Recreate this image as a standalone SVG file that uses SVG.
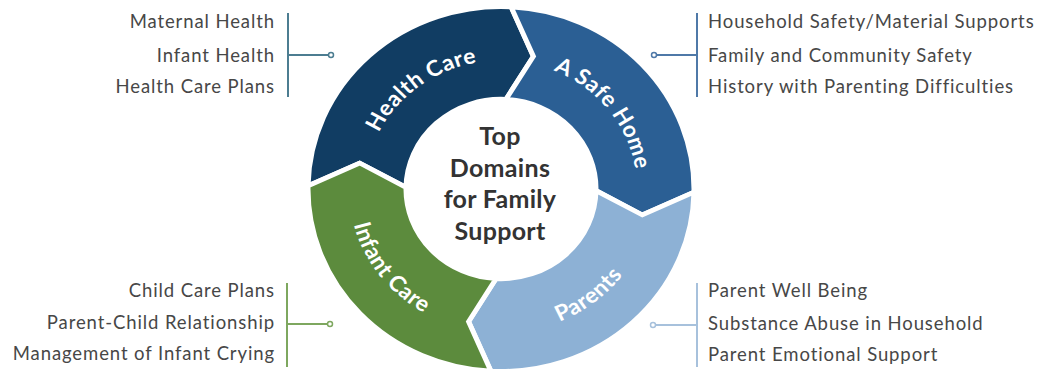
<svg xmlns="http://www.w3.org/2000/svg" width="1039" height="370" viewBox="0 0 1039 370">
<style>
.seg{stroke:#fff;stroke-width:5;stroke-linejoin:miter}
.lbl{font-family:Lato,"Open Sans",sans-serif;font-weight:700;font-size:23px;fill:#fff;letter-spacing:0.6px}
.ctr{font-family:Lato,"Open Sans",sans-serif;font-weight:700;font-size:25px;fill:#333;text-anchor:middle;letter-spacing:0.3px}
.side{font-family:Lato,"Open Sans",sans-serif;font-size:18.5px;fill:#474747;letter-spacing:0.9px}
.r{text-anchor:end}
.dot{fill:#fff;stroke-width:1.5}
.ln{fill:none;stroke-width:2}
</style>
<rect width="1039" height="370" fill="#fff"/>
<g transform="translate(501,189) scale(1,0.945)">
<g id="health-care">
<path class="seg" fill="#113d63" d="M-192.97,-3.37 A193,193 0 0,1 10.10,-192.74 L32.39,-140.31 L4.97,-94.87 A95,95 0 0,0 -94.99,-1.66 L-141.35,-27.48 Z"/>
<path id="aHC" fill="none" d="M-134.99,16.57 A136,136 0 0,1 53.14,-125.19"/>
<text class="lbl"><textPath href="#aHC" startOffset="50%" text-anchor="middle">Health Care</textPath></text>
</g>
<g id="safe-home">
<path class="seg" fill="#2b5f94" d="M10.10,-192.74 A193,193 0 0,1 192.97,3.37 L141.35,27.48 L94.99,1.66 A95,95 0 0,0 4.97,-94.87 L32.39,-140.31 Z"/>
<path id="aSH" fill="none" d="M-18.93,-134.68 A136,136 0 0,1 126.10,50.95"/>
<text class="lbl"><textPath href="#aSH" startOffset="50%" text-anchor="middle">A Safe Home</textPath></text>
</g>
<g id="parents">
<path class="seg" fill="#8db1d5" d="M192.97,3.37 A193,193 0 0,1 -10.10,192.74 L-32.39,140.31 L-4.97,94.87 A95,95 0 0,0 94.99,1.66 L141.35,27.48 Z"/>
<path id="aPA" fill="none" d="M-56.94,140.93 A152,152 0 0,0 150.52,-21.15"/>
<text class="lbl"><textPath href="#aPA" startOffset="50%" text-anchor="middle">Parents</textPath></text>
</g>
<g id="infant-care">
<path class="seg" fill="#5c8b3d" d="M-10.10,192.74 A193,193 0 0,1 -192.97,-3.37 L-141.35,-27.48 L-94.99,-1.66 A95,95 0 0,0 -4.97,94.87 L-32.39,140.31 Z"/>
<path id="aIC" fill="none" d="M-139.92,-59.39 A152,152 0 0,0 18.52,150.87"/>
<text class="lbl"><textPath href="#aIC" startOffset="50%" text-anchor="middle">Infant Care</textPath></text>
</g>
</g>
<g id="center">
<text class="ctr" x="500" y="145">Top</text>
<text class="ctr" x="500" y="177">Domains</text>
<text class="ctr" x="500" y="208">for Family</text>
<text class="ctr" x="500" y="240">Support</text>
</g>
<g id="connectors">
<path class="ln" stroke="#4c7d91" d="M288,13 V97 M288,55 H328.5"/>
<circle class="dot" stroke="#4c7d91" cx="331" cy="55" r="2.5"/>
<path class="ln" stroke="#4f79a8" d="M697,13 V97 M697,55 H656.5"/>
<circle class="dot" stroke="#4f79a8" cx="654" cy="55" r="2.5"/>
<path class="ln" stroke="#7ea75f" d="M287,283 V367 M287,324 H327.5"/>
<circle class="dot" stroke="#7ea75f" cx="330" cy="324" r="2.5"/>
<path class="ln" stroke="#a7c1dc" d="M697,283 V367 M697,325 H655.5"/>
<circle class="dot" stroke="#a7c1dc" cx="653" cy="325" r="2.5"/>
</g>
<g id="health-care-items">
<text class="side r" x="275" y="28">Maternal Health</text>
<text class="side r" x="275" y="62">Infant Health</text>
<text class="side r" x="275" y="93">Health Care Plans</text>
</g>
<g id="safe-home-items">
<text class="side" x="708" y="28">Household Safety/Material Supports</text>
<text class="side" x="708" y="62">Family and Community Safety</text>
<text class="side" x="708" y="93">History with Parenting Difficulties</text>
</g>
<g id="infant-care-items">
<text class="side r" x="275" y="297">Child Care Plans</text>
<text class="side r" x="275" y="329">Parent-Child Relationship</text>
<text class="side r" x="275" y="360">Management of Infant Crying</text>
</g>
<g id="parents-items">
<text class="side" x="708" y="297">Parent Well Being</text>
<text class="side" x="708" y="330">Substance Abuse in Household</text>
<text class="side" x="708" y="361">Parent Emotional Support</text>
</g>
</svg>
